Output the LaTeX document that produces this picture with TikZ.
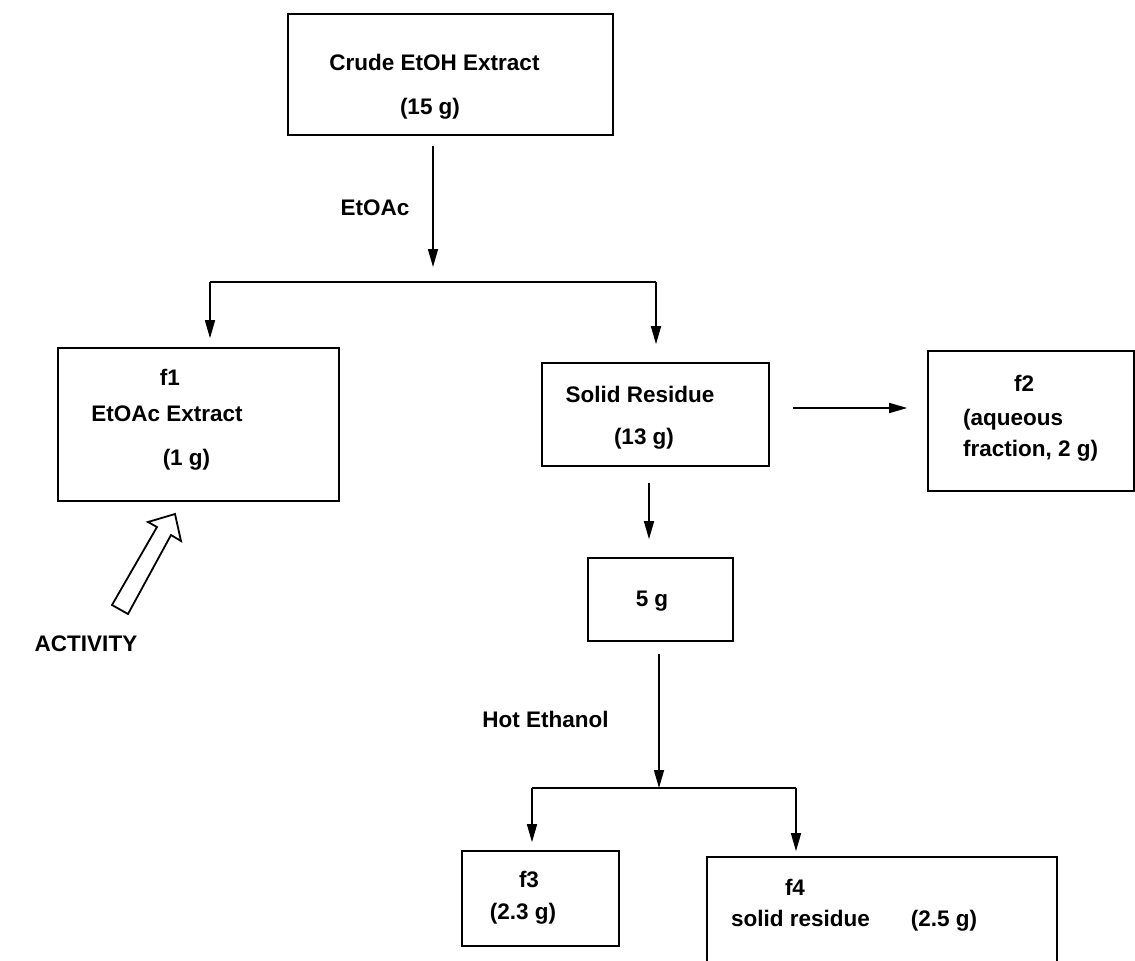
\documentclass[tikz,border=0pt]{standalone}
\usepackage{fontspec}
\setmainfont{Liberation Sans}
\usetikzlibrary{arrows.meta}
\begin{document}
\begin{tikzpicture}[x=1pt,y=-1pt,
  box/.style={draw, line width=1.6pt, inner sep=0pt, rectangle},
  txt/.style={inner sep=0pt, text height=16pt, text depth=0pt, font=\fontsize{22.5}{27}\selectfont\bfseries},
  arr/.style={line width=1.5pt, -{Triangle[length=18pt,width=10pt]}},
  ln/.style={line width=1.5pt},
  hollow/.style={draw, line width=1.8pt, fill=white, line join=miter}]
\useasboundingbox (0,0) rectangle (1135,961);
\clip (0,0) rectangle (1135,961);

% boxes
\node[box, minimum width=325pt, minimum height=121pt] (top) at (450.5,74.5) {};
\node[box, minimum width=281pt, minimum height=153pt] (f1) at (198.5,424.5) {};
\node[box, minimum width=227pt, minimum height=103pt] (solid) at (655.5,414.5) {};
\node[box, minimum width=206pt, minimum height=140pt] (f2) at (1031,421) {};
\node[box, minimum width=145pt, minimum height=83pt] (fg) at (660.5,599.5) {};
\node[box, minimum width=157pt, minimum height=95pt] (f3) at (540.5,898.5) {};
\node[box, minimum width=350pt, minimum height=123pt] (f4) at (882,918.5) {};

% texts
\node[txt] (t1a) at (434.5,62) {Crude EtOH Extract};
\node[txt] (t1b) at (430,106) {(15 g)};
\node[txt] (f1a) at (170,377) {f1};
\node[txt] (f1b) at (167,413) {EtOAc Extract};
\node[txt] (f1c) at (186.5,457) {(1 g)};
\node[txt] (sa) at (640,394) {Solid Residue};
\node[txt] (sb) at (644,436) {(13 g)};
\node[txt] (f2a) at (1024,383) {f2};
\node[txt, anchor=west] (f2b) at (963,417) {(aqueous};
\node[txt, anchor=west] (f2c) at (963,448) {fraction, 2 g)};
\node[txt] (fga) at (652,598) {5 g};
\node[txt] (f3a) at (529,879) {f3};
\node[txt] (f3b) at (523,911) {(2.3 g)};
\node[txt] (f4a) at (795,887) {f4};
\node[txt] (f4b) at (800.5,918) {solid residue};
\node[txt] (f4c) at (944,918) {(2.5 g)};

% labels
\node[txt] (lEt) at (375,207) {EtOAc};
\node[txt] (lHot) at (545.5,719) {Hot Ethanol};
\node[txt] (lAct) at (86,643) {ACTIVITY};

% junctions
\coordinate (j1) at (433,282);
\coordinate (j1L) at (210,282);
\coordinate (j1R) at (656,282);
\coordinate (m1) at (0,408);
\coordinate (c2) at (649,0);
\coordinate (j2) at (659,788);
\coordinate (j2L) at (532,788);
\coordinate (j2R) at (796,788);

% connectors
\draw[arr, shorten <=10pt, shorten >=15pt] (top.south -| j1) -- (j1);
\draw[ln] (j1L) -- (j1R);
\draw[arr, shorten >=9pt] (j1L) -- (f1.north -| j1L);
\draw[arr, shorten >=18pt] (j1R) -- (solid.north -| j1R);
\draw[arr, shorten <=23pt, shorten >=20pt] (solid.east |- m1) -- (f2.west |- m1);
\draw[arr, shorten <=16pt, shorten >=18pt] (solid.south -| c2) -- (fg.north -| c2);
\draw[arr, shorten <=12pt] (fg.south -| j2) -- (j2);
\draw[ln] (j2L) -- (j2R);
\draw[arr, shorten >=8pt] (j2L) -- (f3.north -| j2L);
\draw[arr, shorten >=5pt] (j2R) -- (f4.north -| j2R);

% hollow activity arrow
\draw[hollow] (112,605) -- (157,527) -- (148,522) -- (175,514) -- (181,541) -- (171,535) -- (128,614) -- cycle;
\end{tikzpicture}
\end{document}
